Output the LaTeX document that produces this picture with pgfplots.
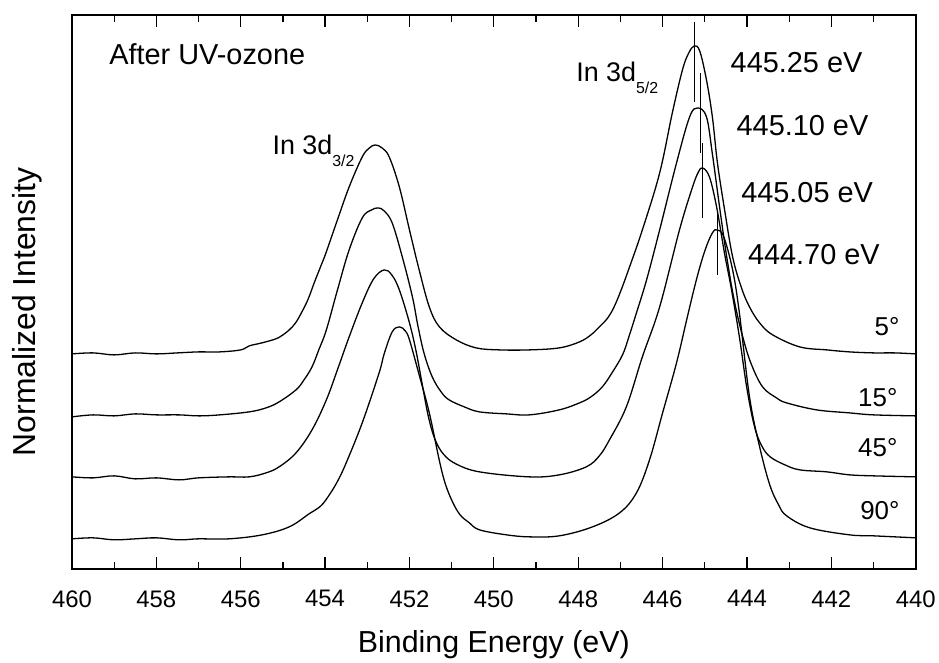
\documentclass[border=0pt]{standalone}
\usepackage{fontspec}
\setmainfont{Liberation Sans}
\usepackage{pgfplots}
\usepackage{pgfplotstable}
\pgfplotsset{compat=1.18}

% In 3d spectra, normalized and offset, for four take-off angles
\pgfplotstableread{
x y
460.00 215
459.50 216
459.00 214
458.50 216
458.00 215
457.50 216
457.00 217
456.50 217
456.00 219
455.80 223
455.50 226
455.17 230
455.00 234
454.85 239
454.70 246
454.55 257
454.40 270
454.25 287
454.10 303
453.98 316
453.70 350
453.43 382
453.12 412
452.95 421
452.81 424
452.65 421
452.48 412
452.24 382
452.00 339
451.77 299
451.53 262
451.29 242
450.89 229
450.42 221
449.87 219
449.16 219
448.45 221
447.97 227
447.70 234
447.50 242
447.30 251
447.15 262
447.00 277
446.80 300
446.48 339
446.07 396
445.77 456
445.53 499
445.38 516
445.25 523
445.12 518
444.96 489
444.82 452
444.70 406
444.53 359
444.34 312
444.13 281
443.94 262
443.70 246
443.39 234
442.75 222
442.11 219
441.57 217
441.00 216
440.50 216
440.00 215
}\deg

\pgfplotstableread{
x y
460.00 152
459.50 154
459.00 153
458.50 155
458.00 154
457.46 154
456.99 153
456.50 154
455.80 157
455.40 161
455.09 167
454.69 179
454.50 189
454.31 202
454.15 219
453.97 239
453.70 280
453.43 319
453.12 351
452.90 359
452.74 361
452.60 358
452.41 346
452.17 312
451.93 272
451.80 243
451.65 215
451.46 192
451.25 177
451.06 169
450.70 162
450.34 157
449.70 155
449.16 154
448.45 159
447.97 166
447.70 172
447.43 182
447.20 196
446.95 214
446.80 232
446.62 256
446.38 289
446.07 339
445.67 406
445.36 452
445.17 461
444.96 452
444.82 415
444.65 362
444.48 312
444.30 268
444.10 232
443.90 205
443.63 182
443.30 171
443.06 166
442.35 159
441.57 156
441.00 154
440.00 153
}\degb

\pgfplotstableread{
x y
460.00 92
459.50 91
459.00 93
458.50 90
458.00 91
457.46 89
457.00 91
456.28 92
455.80 92
455.40 96
455.09 102
454.69 116
454.31 139
453.97 169
453.70 200
453.43 232
453.12 266
452.85 290
452.60 299
452.42 294
452.24 279
452.00 246
451.84 217
451.70 185
451.55 152
451.40 130
451.20 115
450.90 105
450.34 97
449.16 92
448.45 94
447.81 102
447.50 113
447.26 129
446.86 162
446.48 212
446.07 262
445.60 339
445.29 382
445.15 397
445.05 401
444.89 392
444.72 362
444.53 315
444.37 280
444.18 232
444.00 180
443.82 142
443.65 123
443.45 112
443.10 104
442.75 99
442.11 97
441.57 94
441.00 93
440.00 92
}\degc

\pgfplotstableread{
x y
460.00 30
459.50 31
459.00 29
458.50 30
458.00 31
457.46 29
457.00 30
456.28 30
455.49 34
454.85 42
454.38 55
454.10 63
453.90 74
453.70 88
453.50 106
453.12 146
452.72 196
452.60 215
452.41 237
452.24 242
452.10 238
452.00 229
451.77 194
451.53 156
451.29 108
451.15 85
450.98 67
450.80 54
450.58 46
450.34 39
449.70 34
449.16 32
448.45 33
447.66 42
447.02 56
446.62 76
446.31 109
446.00 156
445.67 206
445.43 249
445.20 289
445.00 318
444.82 336
444.70 339
444.55 332
444.34 299
444.18 256
443.94 172
443.70 122
443.46 84
443.25 64
443.06 53
442.51 41
441.57 34
441.00 33
440.00 31
}\degd

\newcommand{\sub}[1]{\raisebox{-0.42em}{\fontsize{16}{16}\selectfont #1}}

\begin{document}
\begin{tikzpicture}
\begin{axis}[
  name=ax,
  scale only axis,
  width=844bp, height=554bp,
  x dir=reverse,
  xmin=440, xmax=460, ymin=0, ymax=554,
  xtick={440,442,...,460},
  minor x tick num=1,
  ytick=\empty,
  tick align=inside,
  major tick length=12bp, minor tick length=7bp,
  every tick/.style={line width=1.3pt, black},
  axis line style={line width=1.6pt},
  /pgf/number format/assume math mode=true,
  /pgf/number format/1000 sep={},
  xticklabel style={font=\fontsize{24}{24}\selectfont, yshift=-18bp},
  xlabel={Binding Energy (eV)},
  xlabel style={font=\fontsize{30.5}{30.5}\selectfont, at={(axis description cs:0.5,-0.1516)}, anchor=base},
  ylabel={Normalized Intensity},
  ylabel style={font=\fontsize{32}{32}\selectfont, at={(axis description cs:-0.0438,0.464)}, anchor=base},
  clip=false,
  every axis plot/.append style={black, line width=1.3pt},
]
\addplot[smooth, tension=0.6] table {\deg};
\addplot[smooth, tension=0.6] table {\degb};
\addplot[smooth, tension=0.6] table {\degc};
\addplot[smooth, tension=0.6] table {\degd};

% peak position markers
\addplot[line width=0.8pt] coordinates {(445.25,467) (445.25,547)};
\addplot[line width=0.8pt] coordinates {(445.10,416) (445.10,496)};
\addplot[line width=0.8pt] coordinates {(445.05,351) (445.05,426)};
\addplot[line width=0.8pt] coordinates {(444.70,294) (444.70,357)};

\begin{scope}[every node/.style={inner sep=0pt}]
\node[anchor=base west, font=\fontsize{29}{29}\selectfont] at (axis cs:459.12,504) {After UV-ozone};
\node[anchor=base west, font=\fontsize{27}{27}\selectfont] at (axis cs:455.25,414) {In 3d\sub{3/2}};
\node[anchor=base west, font=\fontsize{27}{27}\selectfont] at (axis cs:448.05,487) {In 3d\sub{5/2}};
\node[anchor=base west, font=\fontsize{29}{29}\selectfont] at (axis cs:444.39,496) {445.25 eV};
\node[anchor=base west, font=\fontsize{29}{29}\selectfont] at (axis cs:444.25,433) {445.10 eV};
\node[anchor=base west, font=\fontsize{29}{29}\selectfont] at (axis cs:444.14,366) {445.05 eV};
\node[anchor=base west, font=\fontsize{29}{29}\selectfont] at (axis cs:443.98,304) {444.70 eV};
\node[anchor=base east, font=\fontsize{26}{26}\selectfont] at (axis cs:440.38,233) {5°};
\node[anchor=base east, font=\fontsize{26}{26}\selectfont] at (axis cs:440.43,162) {15°};
\node[anchor=base east, font=\fontsize{26}{26}\selectfont] at (axis cs:440.43,112) {45°};
\node[anchor=base east, font=\fontsize{26}{26}\selectfont] at (axis cs:440.38,49) {90°};
\end{scope}
\end{axis}
\path (ax.south west) ++(-72bp,-93bp) rectangle ([shift={(23bp,15bp)}]ax.north east);
\end{tikzpicture}
\end{document}
